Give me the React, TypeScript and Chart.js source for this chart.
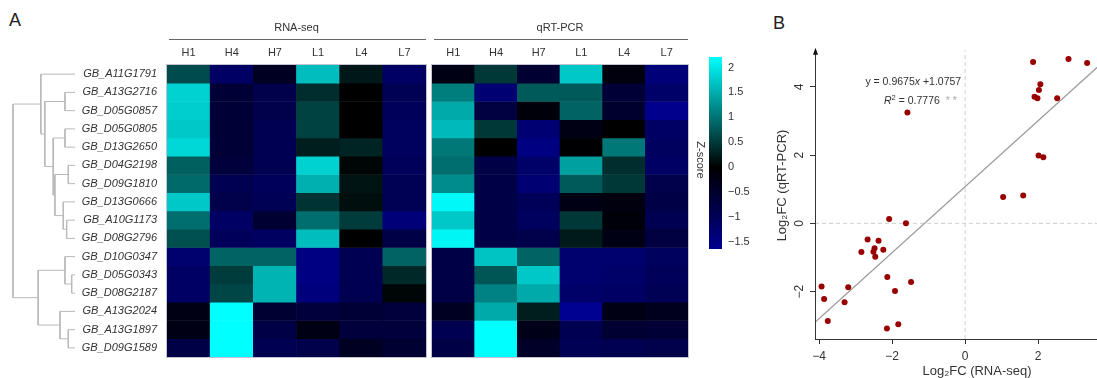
import React, { useEffect, useRef } from 'react';
import { Chart, registerables } from 'chart.js';

Chart.register(...registerables);

const FONT = "'Liberation Sans', Arial, Helvetica, sans-serif";
Chart.defaults.font.family = FONT;
Chart.defaults.color = '#333';

// ---------------- Data ----------------
const GENES = [
  'GB_A11G1791', 'GB_A13G2716', 'GB_D05G0857', 'GB_D05G0805', 'GB_D13G2650',
  'GB_D04G2198', 'GB_D09G1810', 'GB_D13G0666', 'GB_A10G1173', 'GB_D08G2796',
  'GB_D10G0347', 'GB_D05G0343', 'GB_D08G2187', 'GB_A13G2024', 'GB_A13G1897', 'GB_D09G1589',
];
const SAMPLES = ['H1', 'H4', 'H7', 'L1', 'L4', 'L7'];

const RNA_Z = [
  [0.65, -1.13, -0.4, 1.65, 0.2, -1.13],
  [1.82, -0.62, -0.85, 0.4, 0.0, -0.96],
  [1.78, -0.62, -0.85, 0.56, 0.0, -1.02],
  [1.73, -0.62, -0.9, 0.56, 0.0, -1.07],
  [1.86, -0.62, -0.9, 0.26, 0.3, -1.07],
  [0.82, -0.68, -0.9, 1.82, 0.04, -1.02],
  [0.91, -0.9, -1.02, 1.52, 0.17, -0.96],
  [1.73, -0.85, -0.96, 0.45, 0.12, -0.96],
  [0.95, -1.13, -0.57, 0.95, 0.52, -1.36],
  [0.69, -1.02, -1.1, 1.65, 0.0, -0.79],
  [-1.24, 0.87, 0.87, -1.47, -0.9, 0.87],
  [-1.13, 0.52, 1.56, -1.47, -0.9, 0.35],
  [-1.13, 0.61, 1.56, -1.41, -0.9, 0.04],
  [-0.23, 2.21, -0.57, -0.68, -0.62, -0.68],
  [-0.23, 2.21, -0.79, -0.23, -0.68, -0.68],
  [-0.79, 2.21, -0.9, -0.85, -0.4, -0.57],
];

const QPCR_Z = [
  [-0.23, 0.48, -0.57, 1.73, -0.17, -1.36],
  [1.08, -1.3, 0.78, 0.78, -0.62, -1.19],
  [1.47, -0.73, -0.11, 0.87, -0.5, -1.58],
  [1.6, 0.48, -1.3, -0.23, 0.0, -1.13],
  [1.04, 0.0, -1.47, -0.03, 1.04, -1.07],
  [0.95, -0.79, -1.19, 1.39, 0.39, -1.13],
  [1.21, -0.79, -1.3, 0.78, 0.48, -0.85],
  [2.15, -0.79, -1.0, -0.23, -0.17, -0.79],
  [1.73, -0.79, -1.07, 0.48, -0.11, -0.9],
  [2.12, -0.79, -0.85, 0.22, -0.23, -0.73],
  [-0.79, 1.69, 0.87, -1.24, -1.24, -1.07],
  [-0.79, 0.74, 1.73, -1.24, -1.19, -1.02],
  [-0.79, 1.13, 1.47, -1.19, -1.13, -0.96],
  [-0.4, 1.47, 0.26, -1.64, -0.23, -0.34],
  [-0.9, 2.21, -0.28, -0.9, -0.57, -0.62],
  [-0.79, 2.21, -0.45, -0.96, -0.9, -0.85],
];

// hclust-style merge table (negative = leaf row, positive = earlier merge) and heights
const DENDRO_MERGE = [
  [-2, -3], [-4, -5], [-6, -7], [-9, -10], [-8, 4], [3, 5], [2, 6], [1, 7], [-1, 8],
  [-12, -13], [-11, 10], [-15, -16], [-14, 12], [11, 13], [9, 14],
];
const DENDRO_HEIGHT = [10, 10, 6.7, 8.3, 11.7, 20, 21.7, 30, 34, 3.3, 10, 6.7, 15, 36.7, 61.7];

const CB_MIN = -1.64;
const CB_MAX = 2.21;
const CB_TICKS = [2, 1.5, 1, 0.5, 0, -0.5, -1, -1.5];

const RNA_LOG2FC = [1.86, 2.83, 3.34, 2.06, 2.02, 1.9, 1.98, 2.52, -1.58, 2.01, 2.14, 1.04, 1.59,
  -2.08, -1.62, -2.67, -2.37, -2.48, -2.84, -2.51, -2.24, -2.46, -2.13, -1.48, -3.93, -3.2,
  -1.92, -3.86, -3.3, -3.76, -2.14, -1.83];
const QPCR_LOG2FC = [4.73, 4.82, 4.7, 4.08, 3.91, 3.71, 3.67, 3.67, 3.25, 1.99, 1.94, 0.77, 0.82,
  0.13, 0.0, -0.47, -0.51, -0.73, -0.84, -0.83, -0.77, -0.98, -1.57, -1.72, -1.85, -1.87,
  -1.98, -2.22, -2.31, -2.86, -3.08, -2.96];

const FIT_SLOPE = 0.9675;
const FIT_INTERCEPT = 1.0757;
const FIT_R2 = 0.7776;

const X_MIN = -4.11;
const X_MAX = 4.76;
const Y_MIN = -3.39;
const Y_MAX = 5.61;
const ARROW_TOP = 5.12;
const X_TICKS = [-4, -2, 0, 2, 4];
const Y_TICKS = [-2, 0, 2, 4];

// ---------------- Helpers ----------------
function zColor(z: number): string {
  if (z < 0) {
    const t = Math.min(1, z / CB_MIN);
    return `rgb(0,0,${Math.round(145 * t)})`;
  }
  const t = Math.min(1, z / CB_MAX);
  const g = Math.round(255 * t);
  return `rgb(0,${g},${g})`;
}

const fmtMinus = (v: any) => String(v).replace('-', '\u2212');

function ChartBox({ left, top, width, height, make }: any) {
  const ref = useRef<HTMLCanvasElement | null>(null);
  useEffect(() => {
    const chart = new Chart(ref.current as HTMLCanvasElement, make());
    return () => chart.destroy();
  }, []);
  return (
    <canvas
      ref={ref}
      width={width}
      height={height}
      style={{ position: 'absolute', left, top, width, height }}
    />
  );
}

const NO_GRID = { display: false, drawTicks: false, tickLength: 0 };

// ---------------- Dendrogram ----------------
function dendroConfig(): any {
  const info: { y: number; h: number }[] = [];
  const node = (r: number) => (r < 0 ? { y: -r - 1, h: 0 } : info[r - 1]);
  const datasets: any[] = [];
  DENDRO_MERGE.forEach(([a, b], k) => {
    const A = node(a);
    const B = node(b);
    const h = DENDRO_HEIGHT[k];
    datasets.push({
      data: [
        { x: A.h, y: A.y }, { x: h, y: A.y }, { x: h, y: B.y }, { x: B.h, y: B.y },
      ],
      showLine: true,
      borderColor: '#b9b9b9',
      borderWidth: 1,
      pointRadius: 0,
      tension: 0,
      clip: false,
    });
    info.push({ y: (A.y + B.y) / 2, h });
  });
  return {
    type: 'scatter',
    data: { datasets },
    options: {
      responsive: false,
      animation: false,
      devicePixelRatio: 1,
      layout: { padding: { left: 13, right: 5, top: 65, bottom: 21 } },
      plugins: { legend: { display: false }, tooltip: { enabled: false } },
      scales: {
        x: { type: 'linear', display: false, min: 0, max: DENDRO_HEIGHT[DENDRO_HEIGHT.length - 1], reverse: true },
        y: { type: 'linear', display: false, min: -0.5, max: GENES.length - 0.5, reverse: true },
      },
    },
  };
}

// ---------------- Heatmaps ----------------
const headerLinePlugin = {
  id: 'headerLine',
  afterDraw(chart: any) {
    const { ctx, chartArea } = chart;
    ctx.save();
    ctx.strokeStyle = '#666';
    ctx.lineWidth = 1;
    ctx.beginPath();
    ctx.moveTo(chartArea.left + 2, chartArea.top - 25.5);
    ctx.lineTo(chartArea.right, chartArea.top - 25.5);
    ctx.stroke();
    ctx.strokeStyle = 'rgba(120,120,150,0.45)';
    ctx.strokeRect(chartArea.left - 0.5, chartArea.top - 0.5, chartArea.width + 1, chartArea.height + 1);
    ctx.restore();
  },
};

function heatmapConfig(title: string, values: number[][], showGenes: boolean, padLeft: number, padRight: number): any {
  const datasets = values.map((row, i) => ({
    label: GENES[i],
    data: row.map(() => 1),
    backgroundColor: row.map(zColor),
    borderWidth: 0,
    barPercentage: 1,
    categoryPercentage: 1,
    stack: 'cells',
  }));
  const scales: any = {
    x: {
      position: 'top',
      stacked: true,
      grid: NO_GRID,
      border: { display: false },
      ticks: { color: '#333', font: { size: 11 }, padding: 5 },
      afterFit: (s: any) => { s.height = 26.8; },
    },
    y: { stacked: true, display: false, min: 0, max: values.length, reverse: true },
  };
  if (showGenes) {
    scales.genes = {
      type: 'category',
      labels: GENES,
      position: 'left',
      offset: true,
      grid: NO_GRID,
      border: { display: false },
      ticks: { color: '#333', font: { size: 11, style: 'italic' }, padding: 10, autoSkip: false },
      afterFit: (s: any) => { s.width = 87; },
    };
  }
  return {
    type: 'bar',
    data: { labels: SAMPLES, datasets },
    options: {
      responsive: false,
      animation: false,
      devicePixelRatio: 1,
      layout: { padding: { left: padLeft, right: padRight, top: 0, bottom: 21 } },
      plugins: {
        legend: { display: false },
        tooltip: { enabled: false },
        title: {
          display: true,
          text: title,
          fullSize: false,
          color: '#333',
          font: { size: 11, weight: 'normal' },
          padding: { top: 21, bottom: 4 },
        },
      },
      scales,
    },
    plugins: [headerLinePlugin],
  };
}

// ---------------- Colour bar ----------------
const zTitlePlugin = {
  id: 'zTitle',
  afterDraw(chart: any) {
    const { ctx, chartArea } = chart;
    ctx.save();
    ctx.translate(chartArea.left - 9, (chartArea.top + chartArea.bottom) / 2 + 7);
    ctx.rotate(Math.PI / 2);
    ctx.font = `11px ${FONT}`;
    ctx.fillStyle = '#333';
    ctx.textAlign = 'center';
    ctx.textBaseline = 'middle';
    ctx.fillText('Z-score', 0, 0);
    ctx.restore();
  },
};

function colorbarConfig(): any {
  return {
    type: 'bar',
    data: {
      labels: ['Z-score'],
      datasets: [{
        data: [[CB_MIN, CB_MAX]],
        borderWidth: 0,
        barPercentage: 1,
        categoryPercentage: 1,
        backgroundColor: (c: any) => {
          const chart = c.chart;
          const ys = chart.scales && chart.scales.y;
          if (!chart.chartArea || !ys) return '#000';
          const g = chart.ctx.createLinearGradient(0, ys.getPixelForValue(CB_MIN), 0, ys.getPixelForValue(CB_MAX));
          g.addColorStop(0, zColor(CB_MIN));
          g.addColorStop((0 - CB_MIN) / (CB_MAX - CB_MIN), zColor(0));
          g.addColorStop(1, zColor(CB_MAX));
          return g;
        },
      }],
    },
    options: {
      responsive: false,
      animation: false,
      devicePixelRatio: 1,
      layout: { padding: { left: 14, right: 0, top: 57, bottom: 129 } },
      plugins: { legend: { display: false }, tooltip: { enabled: false } },
      scales: {
        x: { display: false },
        y: {
          position: 'right',
          min: CB_MIN,
          max: CB_MAX,
          grid: NO_GRID,
          border: { display: false },
          afterBuildTicks: (s: any) => { s.ticks = CB_TICKS.map((v) => ({ value: v })); },
          ticks: { color: '#333', font: { size: 11 }, padding: 6, callback: (v: any) => fmtMinus(v) },
          afterFit: (s: any) => { s.width = 33; },
        },
      },
    },
    plugins: [zTitlePlugin],
  };
}

// ---------------- Scatter ----------------
function drawRuns(ctx: any, x: number, y: number, runs: any[]) {
  let cx = x;
  for (const r of runs) {
    ctx.font = r.font;
    ctx.fillStyle = r.color || '#333';
    ctx.fillText(r.text, cx, y + (r.dy || 0));
    cx += ctx.measureText(r.text).width;
  }
}

const EQ_POS = { x: -2.73, y: 4.14 };
const R2_POS = { x: -2.22, y: 3.59 };

const scatterDecorPlugin = {
  id: 'scatterDecor',
  afterDraw(chart: any) {
    const { ctx, chartArea, scales } = chart;
    const xs = scales.x;
    const ys = scales.y;
    ctx.save();
    // y axis line with arrow
    const x0 = Math.round(chartArea.left) + 0.5;
    const yTop = ys.getPixelForValue(ARROW_TOP);
    ctx.strokeStyle = '#333';
    ctx.lineWidth = 1;
    ctx.beginPath();
    ctx.moveTo(x0, chartArea.bottom);
    ctx.lineTo(x0, yTop + 4);
    ctx.stroke();
    ctx.fillStyle = '#111';
    ctx.beginPath();
    ctx.moveTo(x0, yTop - 1);
    ctx.lineTo(x0 - 2.5, yTop + 6);
    ctx.lineTo(x0 + 2.5, yTop + 6);
    ctx.closePath();
    ctx.fill();
    // equation text
    ctx.textBaseline = 'middle';
    ctx.textAlign = 'left';
    const n = `10.5px ${FONT}`;
    const it = `italic 10.5px ${FONT}`;
    drawRuns(ctx, xs.getPixelForValue(EQ_POS.x), ys.getPixelForValue(EQ_POS.y), [
      { text: `y = ${FIT_SLOPE}`, font: n },
      { text: 'x', font: it },
      { text: ` +${FIT_INTERCEPT}`, font: n },
    ]);
    drawRuns(ctx, xs.getPixelForValue(R2_POS.x), ys.getPixelForValue(R2_POS.y), [
      { text: 'R', font: it },
      { text: '2', font: `7.5px ${FONT}`, dy: -3 },
      { text: ` = ${FIT_R2}`, font: n },
      { text: '  * *', font: n, color: '#aaa' },
    ]);
    ctx.restore();
  },
};

function scatterConfig(): any {
  const points = RNA_LOG2FC.map((x, i) => ({ x, y: QPCR_LOG2FC[i] }));
  return {
    type: 'scatter',
    data: {
      datasets: [
        {
          data: points,
          pointRadius: 3,
          pointBackgroundColor: '#990000',
          pointBorderWidth: 0,
          showLine: false,
        },
        {
          data: [
            { x: X_MIN, y: FIT_SLOPE * X_MIN + FIT_INTERCEPT },
            { x: X_MAX, y: FIT_SLOPE * X_MAX + FIT_INTERCEPT },
          ],
          showLine: true,
          borderColor: '#9a9a9a',
          borderWidth: 1.3,
          pointRadius: 0,
        },
        {
          data: [{ x: 0, y: Y_MIN }, { x: 0, y: ARROW_TOP - 0.05 }],
          showLine: true,
          borderColor: '#cfcfcf',
          borderWidth: 1,
          borderDash: [4, 3],
          pointRadius: 0,
        },
        {
          data: [{ x: X_MIN, y: 0 }, { x: X_MAX, y: 0 }],
          showLine: true,
          borderColor: '#cfcfcf',
          borderWidth: 1,
          borderDash: [4, 3],
          pointRadius: 0,
        },
      ],
    },
    options: {
      responsive: false,
      animation: false,
      devicePixelRatio: 1,
      layout: { padding: { left: 0, right: 0, top: 32, bottom: 0 } },
      plugins: { legend: { display: false }, tooltip: { enabled: false } },
      scales: {
        x: {
          type: 'linear',
          min: X_MIN,
          max: X_MAX,
          afterBuildTicks: (s: any) => { s.ticks = X_TICKS.map((v) => ({ value: v })); },
          grid: { display: true, drawOnChartArea: false, drawTicks: true, tickLength: 5, color: '#333' },
          border: { display: true, color: '#333' },
          ticks: { color: '#333', font: { size: 12 }, padding: 5, callback: (v: any) => fmtMinus(v) },
          title: {
            display: true,
            text: 'Log\u2082FC (RNA-seq)',
            color: '#333',
            font: { size: 13, lineHeight: 1 },
            padding: { top: 0, bottom: 0 },
          },
          afterFit: (s: any) => { s.height = 39; },
        },
        y: {
          type: 'linear',
          min: Y_MIN,
          max: Y_MAX,
          afterBuildTicks: (s: any) => { s.ticks = Y_TICKS.map((v) => ({ value: v })); },
          grid: { display: true, drawOnChartArea: false, drawTicks: true, tickLength: 5, color: '#333' },
          border: { display: false },
          ticks: {
            color: '#333',
            font: { size: 12 },
            padding: 3,
            minRotation: 90,
            maxRotation: 90,
            crossAlign: 'center',
            callback: (v: any) => fmtMinus(v),
          },
          title: {
            display: true,
            text: 'Log\u2082FC (qRT-PCR)',
            color: '#333',
            font: { size: 13, lineHeight: 1 },
            padding: { top: 16, bottom: 0 },
          },
          afterFit: (s: any) => { s.width = 55; },
        },
      },
    },
    plugins: [scatterDecorPlugin],
  };
}

// ---------------- App ----------------
export default function App() {
  const panelLabel: any = {
    position: 'absolute',
    fontFamily: FONT,
    fontSize: 18,
    lineHeight: 1,
    color: '#222',
  };
  return (
    <div
      style={{
        position: 'fixed',
        left: 0,
        top: 0,
        width: 1097,
        height: 378,
        overflow: 'hidden',
        background: '#fff',
      }}
    >
      <div style={{ ...panelLabel, left: 9, top: 11 }}>A</div>
      <div style={{ ...panelLabel, left: 773, top: 14 }}>B</div>
      <ChartBox left={0} top={0} width={80} height={378} make={dendroConfig} />
      <ChartBox left={80} top={0} width={350} height={378} make={() => heatmapConfig('RNA-seq', RNA_Z, true, 0, 4)} />
      <ChartBox left={430} top={0} width={262} height={378} make={() => heatmapConfig('qRT-PCR', QPCR_Z, false, 2, 4)} />
      <ChartBox left={695} top={0} width={60} height={378} make={colorbarConfig} />
      <ChartBox left={760} top={0} width={383} height={378} make={scatterConfig} />
    </div>
  );
}
